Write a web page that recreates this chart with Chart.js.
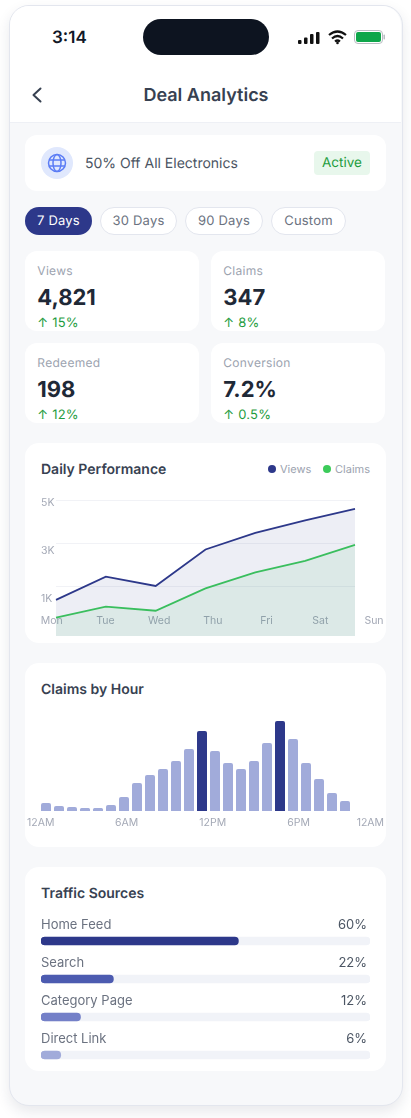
<!DOCTYPE html>
<html lang="en"><head><meta charset="utf-8"><title>Deal Analytics</title>
<script src="https://cdn.jsdelivr.net/npm/chart.js@4"></script>
<style>
html,body{margin:0;padding:0;background:#fff;width:411px;height:1118px;overflow:hidden;font-family:Inter,sans-serif;text-rendering:geometricPrecision}
.a{position:absolute}
.t{position:absolute;white-space:nowrap;line-height:1}
#phone{left:9px;top:5px;width:392px;height:1099px;border:1px solid #e3e6ee;border-radius:20px;background:#f7f8fa;box-shadow:0 6px 14px rgba(30,40,70,.10);overflow:hidden}
#head{left:10px;top:6px;width:391px;height:116px;background:#fff;border-bottom:1px solid #eef0f5;border-radius:19px 19px 0 0}
.card{position:absolute;background:#fff;overflow:hidden}
.pill{position:absolute;top:207px;height:26px;border:1px solid #e3e6ee;border-radius:14px;background:#fff;color:#6b7280;font-size:13px;line-height:27px;text-align:center;letter-spacing:.2px}
.lab{left:12.3px;top:14px;font-size:12px;color:#9ca3af;letter-spacing:.3px}
.val{left:12.3px;top:36px;font-size:22px;font-weight:700;color:#1f2937}
.chg{left:12.3px;top:66px;font-size:13px;color:#1f9d3f;letter-spacing:.2px}
.ttl{font-size:14px;font-weight:600;color:#374151}
canvas{position:absolute;display:block}
</style></head><body>
<div class="a" id="phone"></div>
<div class="a" id="head"></div>
<div class="t" style="left:52px;top:30px;font-size:17px;font-weight:600;color:#111827">3:14</div>
<div class="a" style="left:143px;top:19px;width:126px;height:36px;border-radius:18px;background:#0d1420"></div>
<svg class="a" style="left:298px;top:30px" width="22" height="15"><rect x="0" y="10" width="3.5" height="4" rx="1" fill="#111"/><rect x="6" y="7.500" width="3.500" height="6.500" rx="1" fill="#111"/><rect x="12" y="4" width="3.500" height="10" rx="1" fill="#111"/><rect x="18" y="2" width="3.500" height="12" rx="1" fill="#111"/></svg>
<svg class="a" style="left:327px;top:29px" width="21" height="16" viewBox="0 0 21 16" fill="none" stroke="#111" stroke-width="2.2"><path d="M2 6 Q10.500 -1 19 6"/><path d="M5 9.500 Q10.500 4.500 16 9.500"/><path d="M8 12.500 Q10.500 10.500 13 12.500"/><circle cx="10.500" cy="14" r="1.300" fill="#111" stroke="none"/></svg>
<svg class="a" style="left:354px;top:30px" width="32" height="15"><rect x=".5" y=".5" width="28" height="13" rx="3.500" fill="#fff" stroke="#b9bcc2"/><rect x="2" y="2" width="25" height="10" rx="2" fill="#0ea64a"/><rect x="29.500" y="4.500" width="1.500" height="5" rx=".7" fill="#b9bcc2"/></svg>
<svg class="a" style="left:30px;top:86px" width="14" height="18" fill="none" stroke="#374151" stroke-width="2" stroke-linecap="round" stroke-linejoin="round"><path d="M10.500 2.500 L3.500 9 L10.500 15.500"/></svg>
<div class="t" style="left:0;width:412px;text-align:center;top:87px;font-size:18px;font-weight:600;color:#374151">Deal Analytics</div>

<div class="card" style="left:25px;top:135px;width:361px;height:56px;border-radius:12px"></div>
<div class="a" style="left:41px;top:147px;width:32px;height:32px;border-radius:50%;background:#e0e8fd"></div>
<svg class="a" style="left:47px;top:153px" width="20" height="20" viewBox="0 0 20 20" fill="none" stroke="#5b7cf5" stroke-width="1.500"><circle cx="10" cy="10" r="8.500"/><ellipse cx="10" cy="10" rx="4" ry="8.500"/><path d="M2 7H18M2 13H18"/></svg>
<div class="t" style="left:85px;top:157px;font-size:14px;color:#4b5563">50% Off All Electronics</div>
<div class="a" style="left:314px;top:151px;width:56px;height:24px;border-radius:4px;background:#e8f7ec;color:#1f9d3f;font-size:13.500px;line-height:25px;text-align:center">Active</div>

<div class="pill" style="left:25px;width:67px;height:28px;line-height:29px;border:0;background:#2d388a;color:#fff">7 Days</div>
<div class="pill" style="left:100px;width:75px">30 Days</div>
<div class="pill" style="left:185px;width:76px">90 Days</div>
<div class="pill" style="left:271px;width:73px">Custom</div>

<div class="card" style="left:25px;top:251px;width:174px;height:80px;border-radius:12px"><div class="t lab">Views</div><div class="t val">4,821</div><div class="t chg">↑ 15%</div></div>
<div class="card" style="left:211px;top:251px;width:174px;height:80px;border-radius:12px"><div class="t lab">Claims</div><div class="t val">347</div><div class="t chg">↑ 8%</div></div>
<div class="card" style="left:25px;top:343px;width:174px;height:80px;border-radius:12px"><div class="t lab">Redeemed</div><div class="t val">198</div><div class="t chg">↑ 12%</div></div>
<div class="card" style="left:211px;top:343px;width:174px;height:80px;border-radius:12px"><div class="t lab">Conversion</div><div class="t val">7.2%</div><div class="t chg">↑ 0.5%</div></div>

<div class="card" style="left:25px;top:443px;width:361px;height:200px;border-radius:14px"></div>
<div class="t ttl" style="left:41px;top:463px">Daily Performance</div>
<div class="a" style="left:268px;top:465px;width:8px;height:8px;border-radius:50%;background:#2d388a"></div>
<div class="t" style="left:280px;top:463.500px;font-size:11px;color:#9ca3af" id="lg0"></div>
<div class="a" style="left:323px;top:465px;width:8px;height:8px;border-radius:50%;background:#3ccb5a"></div>
<div class="t" style="left:335px;top:463.500px;font-size:11px;color:#9ca3af" id="lg1"></div>
<canvas id="line" width="360" height="146" style="left:25px;top:490px"></canvas>

<div class="card" style="left:25px;top:663px;width:361px;height:184px;border-radius:14px"></div>
<div class="t ttl" style="left:41px;top:683px">Claims by Hour</div>
<canvas id="hours" width="360" height="125" style="left:25px;top:711px"></canvas>

<div class="card" style="left:25px;top:867px;width:361px;height:204px;border-radius:14px;z-index:1">
<div class="t ttl" style="left:16px;top:20px">Traffic Sources</div>
<canvas id="traffic" width="361" height="167" style="left:0;top:40px"></canvas>
</div>

<script>
const days = ['Mon','Tue','Wed','Thu','Fri','Sat','Sun'];
const viewsSeries = [920,1890,1500,3020,3710,4230,4710];
const claimsSeries = [180,640,470,1400,2070,2550,3210];
const seriesNames = ['Views','Claims'];
const yTickValues = [5000,3000,1000];
const yTickLabels = ['5K','3K','1K'];
const hours = ['12AM','1AM','2AM','3AM','4AM','5AM','6AM','7AM','8AM','9AM','10AM','11AM','12PM','1PM','2PM','3PM','4PM','5PM','6PM','7PM','8PM','9PM','10PM','11PM'];
const hourClaims = [8,5,4,3,3,6,14,28,36,42,50,62,80,60,48,42,50,68,90,72,48,32,18,10];
const peakHours = ['12PM','6PM'];
const hourTickValues = [0,6,12,18,23];
const hourTickLabels = ['12AM','6AM','12PM','6PM','12AM'];
const sources = ['Home Feed','Search','Category Page','Direct Link'];
const sourceShare = [60,22,12,6];

document.getElementById('lg0').textContent = seriesNames[0];
document.getElementById('lg1').textContent = seriesNames[1];

const NAVY='#2d388a', GREEN='#3ccb5a', SOFT='#a1abda', MUTED='#a4a9b6';
const tickFont={family:'Inter',size:10.5};
const zeroFit=(w,h)=>s=>{ if(w!==null)s.width=w; if(h!==null)s.height=h; s.paddingLeft=s.paddingRight=s.paddingTop=s.paddingBottom=0; };
const hiddenGrid={grid:{display:false},border:{display:false}};
// Axes whose labels sit on their own span, apart from the plot area.
const placeAxes={id:'placeAxes',afterLayout(chart){
  for(const s of Object.values(chart.scales)){
    const p=s.options.place; if(!p) continue;
    s.left=p.left; s.right=p.right; s.width=p.right-p.left; s.top=p.top; s.bottom=chart.height;
    s.configure();
  }
}};
Chart.defaults.animation=false;
Chart.defaults.responsive=false;
Chart.defaults.plugins.legend.display=false;
Chart.defaults.plugins.tooltip.enabled=false;
Chart.defaults.font.family='Inter';

new Chart(document.getElementById('line'),{
  type:'line',plugins:[placeAxes],
  data:{labels:days,datasets:[
    {label:seriesNames[0],data:viewsSeries,borderColor:NAVY,borderWidth:1.8,pointRadius:0,tension:0,fill:'start',backgroundColor:'rgba(45,56,138,.085)',clip:false},
    {label:seriesNames[1],data:claimsSeries,borderColor:GREEN,borderWidth:1.8,pointRadius:0,tension:0,fill:'start',backgroundColor:'rgba(60,203,90,.09)',clip:false}
  ]},
  options:{
    layout:{padding:{left:16,right:30,top:10,bottom:0}},
    scales:{
      x:{display:false,offset:false},
      y:{position:'left',min:-583,max:5083,...hiddenGrid,afterFit:zeroFit(15,null),
         afterBuildTicks(a){a.ticks=yTickValues.map(v=>({value:v}));},
         ticks:{callback:(v,i)=>yTickLabels[i],crossAlign:'far',color:MUTED,font:tickFont,padding:0,labelOffset:1}},
      yGrid:{position:'left',reverse:true,min:0,max:136/43.33,afterFit:zeroFit(0,null),
         border:{display:false},grid:{color:'#f1f2f6',lineWidth:1,drawTicks:false},
         afterBuildTicks(a){a.ticks=[0,1,2].map(v=>({value:v}));},
         ticks:{display:false}},
      xDays:{type:'category',labels:days,position:'bottom',offset:false,...hiddenGrid,afterFit:zeroFit(null,0),
         place:{left:26.7,right:349,top:116.5},
         ticks:{color:MUTED,font:tickFont,padding:0,autoSkip:false,minRotation:0,maxRotation:0}}
    }
  }
});

new Chart(document.getElementById('hours'),{
  type:'bar',plugins:[placeAxes],
  data:{labels:hours,datasets:[{data:hourClaims,
    backgroundColor:hours.map(h=>peakHours.includes(h)?NAVY:SOFT),
    categoryPercentage:1,barPercentage:10/13,borderRadius:{topLeft:2,topRight:2},borderSkipped:'bottom'}]},
  options:{
    layout:{padding:{left:14.5,right:33.5,top:10,bottom:25}},
    scales:{
      x:{display:false},
      y:{display:false,min:0,max:90},
      xHours:{type:'linear',position:'bottom',offset:false,min:0,max:24,...hiddenGrid,afterFit:zeroFit(null,0),
         place:{left:15.7,right:359.7,top:97.5},
         afterBuildTicks(a){a.ticks=hourTickValues.map(v=>({value:v}));},
         ticks:{callback:(v,i)=>hourTickLabels[i],color:MUTED,font:tickFont,padding:0,autoSkip:false,minRotation:0,maxRotation:0}}
    }
  }
});

new Chart(document.getElementById('traffic'),{
  type:'bar',
  data:{labels:sources,datasets:[
    {data:sourceShare,backgroundColor:[NAVY,'#4c5bb0','#7480c8',SOFT],barThickness:8,borderRadius:4,borderSkipped:false,grouped:false,order:0},
    {data:sources.map(()=>100),backgroundColor:'#f1f3f8',barThickness:8,borderRadius:4,borderSkipped:false,grouped:false,order:1}
  ]},
  options:{
    indexAxis:'y',
    layout:{padding:{left:16,right:16,top:15,bottom:0}},
    scales:{
      x:{display:false,min:0,max:100},
      y:{position:'left',...hiddenGrid,afterFit:zeroFit(0,null),
         ticks:{mirror:true,padding:0,labelOffset:-15.7,color:'#6b7280',font:{family:'Inter',size:13}}},
      yShare:{type:'category',labels:sourceShare.map(v=>v+'%'),position:'right',...hiddenGrid,afterFit:zeroFit(0,null),
         ticks:{mirror:true,padding:-3,labelOffset:-15.7,color:'#4b5563',font:{family:'Inter',size:13}}}
    }
  }
});
</script>
</body></html>
